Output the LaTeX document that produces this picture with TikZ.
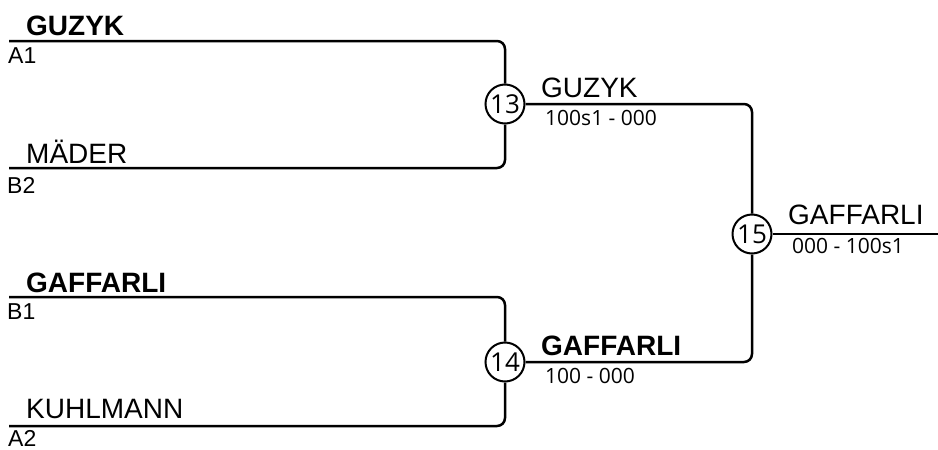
\documentclass[tikz,border=0pt]{standalone}
\usepackage{fontspec}
\setmainfont{Liberation Sans}
\newfontfamily\scorefont{Open Sans}
\begin{document}
\begin{tikzpicture}[x=1pt,y=-1pt,
  plname/.style={anchor=base west, inner sep=0pt, font=\fontsize{28}{32}\selectfont},
  plwin/.style={plname, font=\fontsize{28}{32}\selectfont\bfseries},
  seedlbl/.style={anchor=base west, inner sep=0pt, font=\fontsize{23}{26}\selectfont},
  scorelbl/.style={anchor=base west, inner sep=0pt, font=\scorefont\fontsize{21}{24}\selectfont},
  matchnum/.style={circle, draw, line width=2pt, fill=white, minimum size=39pt, inner sep=0pt, font=\scorefont\fontsize{26}{28}\selectfont},
  bline/.style={line width=2.5pt, rounded corners=8pt}
]
\useasboundingbox (0,0) rectangle (938,450);

% match circles
\node[matchnum] (c13) at (505,104) {13};
\node[matchnum] (c14) at (505,362) {14};
\node[matchnum] (c15) at (752,234) {15};

% free ends
\coordinate (sA1) at (9,41);
\coordinate (sB2) at (9,168);
\coordinate (sB1) at (9,297);
\coordinate (sA2) at (9,426);
\coordinate (fin) at (938,234);

% connectors
\draw[bline] (sA1) -| (c13);
\draw[bline] (sB2) -| (c13);
\draw[bline] (sB1) -| (c14);
\draw[bline] (sA2) -| (c14);
\draw[bline] (c13) -| (c15);
\draw[bline] (c14) -| (c15);
\draw[bline] (c15) -- (fin);

% left labels
\node[plwin] (n1) at (26,35) {GUZYK};
\node[seedlbl] (s1) at (8,63) {A1};
\node[plname] (n2) at (26,163) {MÄDER};
\node[seedlbl] (s2) at (7,193) {B2};
\node[plwin] (n3) at (26,292) {GAFFARLI};
\node[seedlbl] (s3) at (7,319) {B1};
\node[plname] (n4) at (26,418) {KUHLMANN};
\node[seedlbl] (s4) at (8,446) {A2};

% round 2
\node[plname] (w13) at (541,97) {GUZYK};
\node[scorelbl] (r13) at (545,125) {100s1 - 000};
\node[plwin] (w14) at (541,355) {GAFFARLI};
\node[scorelbl] (r14) at (545,383) {100 - 000};

% final
\node[plname] (w15) at (788,224) {GAFFARLI};
\node[scorelbl] (r15) at (792,253) {000 - 100s1};
\end{tikzpicture}
\end{document}
